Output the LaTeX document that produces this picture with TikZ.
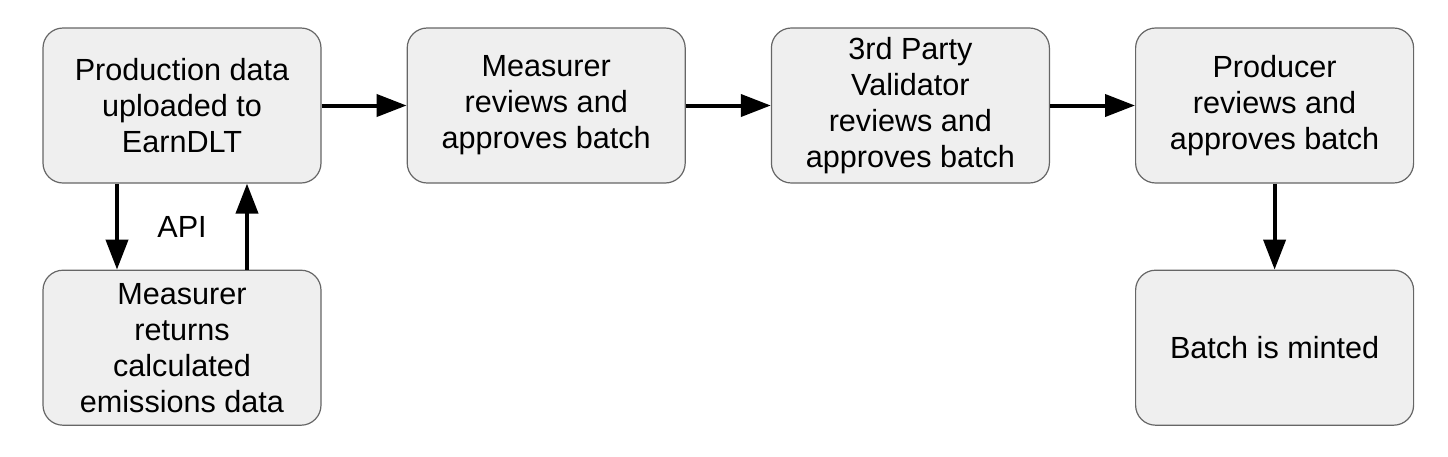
\documentclass[tikz,border=0pt]{standalone}
\usepackage{fontspec}
\setmainfont{Liberation Sans}
\usetikzlibrary{positioning,calc,arrows.meta}

\definecolor{boxfill}{HTML}{EFEFEF}
\definecolor{boxline}{HTML}{666666}

\tikzstyle{stepbox} = [draw=boxline, fill=boxfill, line width=0.6pt,
    rectangle, rounded corners=10pt, minimum width=139pt, minimum height=77.5pt,
    align=center, font=\fontsize{15.3}{18}\selectfont]
\tikzstyle{flow} =[line width=2pt, -{Triangle[length=15pt,width=11pt]}]

\begin{document}
\begin{tikzpicture}
\useasboundingbox (0,0) rectangle (724pt,-228pt);
\node [stepbox] (upload) at (91pt,-52.75pt) {Production data\\uploaded to\\EarnDLT};
\node [stepbox, right=42.5pt of upload] (measrev) {Measurer\\reviews and\\approves batch};
\node [stepbox, right=42.5pt of measrev] (validator) {3rd Party\\Validator\\reviews and\\approves batch};
\node [stepbox, right=42.5pt of validator] (producer) {Producer\\reviews and\\approves batch};
\node [stepbox, below=43pt of upload] (calc) {Measurer\\returns\\calculated\\emissions data};
\node [stepbox, below=43pt of producer] (minted) {Batch is minted};
\node [font=\fontsize{15.3}{18}\selectfont] (api) at ($(upload.south)!0.5!(calc.north)$) {API};

\draw [flow] (upload) -- (measrev);
\draw [flow] (measrev) -- (validator);
\draw [flow] (validator) -- (producer);
\draw [flow] (producer) -- (minted);
\draw [flow] ([xshift=-32.5pt]upload.south) -- ([xshift=-32.5pt]calc.north);
\draw [flow] ([xshift=32.5pt]calc.north) -- ([xshift=32.5pt]upload.south);
\end{tikzpicture}
\end{document}
